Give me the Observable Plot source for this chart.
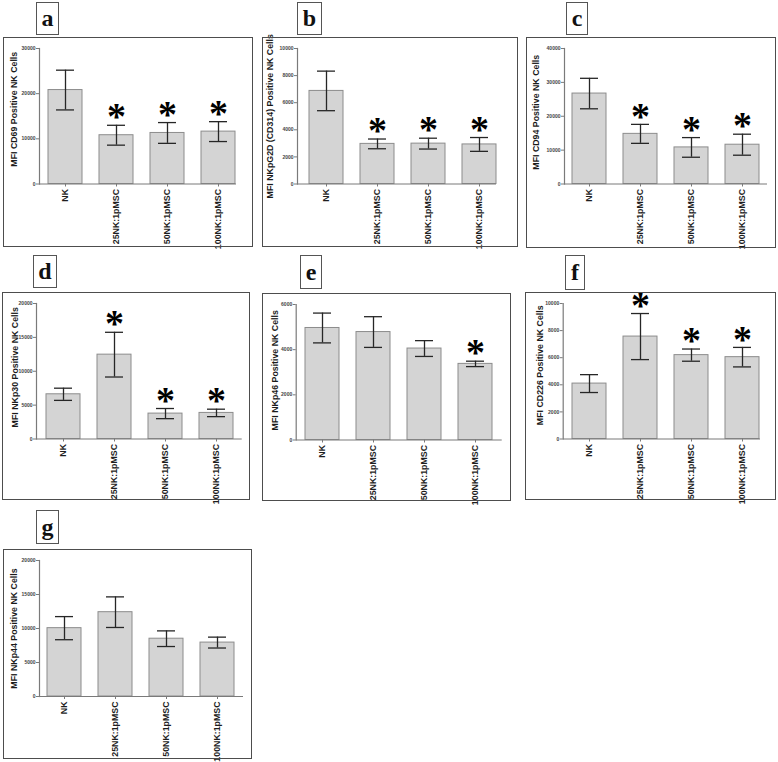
<!DOCTYPE html>
<html><head><meta charset="utf-8">
<script src="https://cdn.jsdelivr.net/npm/d3@7"></script>
<script src="https://cdn.jsdelivr.net/npm/@observablehq/plot@0.6"></script>
<style>
body{margin:0;background:#fff;}
#root{position:relative;width:778px;height:762px;overflow:hidden;background:#fff;}
.frame{position:absolute;box-sizing:border-box;border:1.3px solid #4d4d4d;pointer-events:none;}
.letter{position:absolute;box-sizing:border-box;border:1px solid #555;font-family:"Liberation Serif","Times New Roman",serif;font-weight:bold;font-size:24px;display:flex;align-items:center;justify-content:center;color:#111;background:#fff;}
.plot{position:absolute;}
</style></head><body><div id="root"></div>
<script>
// ---- data ----
const categories = ["NK", "25NK:1pMSC", "50NK:1pMSC", "100NK:1pMSC"];

const meansA = [20800, 10800, 11300, 11600];
const sdsA   = [4400, 2200, 2300, 2200];
const starsA = [0, 1, 1, 1];
const ticksA = [0, 10000, 20000, 30000];
const titleA = "MFI CD69 Positive NK Cells";

const meansB = [6870, 2960, 2980, 2920];
const sdsB   = [1460, 360, 400, 510];
const starsB = [0, 1, 1, 1];
const ticksB = [0, 2000, 4000, 6000, 8000, 10000];
const titleB = "MFI NKpG2D (CD314) Positive NK Cells";

const meansC = [26700, 14800, 10800, 11600];
const sdsC   = [4500, 2800, 2900, 3100];
const starsC = [0, 1, 1, 1];
const ticksC = [0, 10000, 20000, 30000, 40000];
const titleC = "MFI CD94 Positive NK Cells";

const meansD = [6600, 12450, 3750, 3850];
const sdsD   = [900, 3300, 750, 550];
const starsD = [0, 1, 1, 1];
const ticksD = [0, 5000, 10000, 15000, 20000];
const titleD = "MFI NKp30 Positive NK Cells";

const meansE = [4960, 4780, 4050, 3370];
const sdsE   = [660, 680, 350, 120];
const starsE = [0, 0, 0, 1];
const ticksE = [0, 2000, 4000, 6000];
const titleE = "MFI NKp46 Positive NK Cells";

const meansF = [4090, 7560, 6190, 6040];
const sdsF   = [660, 1700, 450, 720];
const starsF = [0, 1, 1, 1];
const ticksF = [0, 2000, 4000, 6000, 8000, 10000];
const titleF = "MFI CD226 Positive NK Cells";

const meansG = [10050, 12400, 8500, 7930];
const sdsG   = [1700, 2250, 1150, 800];
const starsG = [0, 0, 0, 0];
const ticksG = [0, 5000, 10000, 15000, 20000];
const titleG = "MFI NKp44 Positive NK Cells";

const panelLetters = ["a", "b", "c", "d", "e", "f", "g"];

// ---- layout (positions only) ----
const layout = [
  {l:3,   t:37,  w:250, h:210, axis:36,   first:45,   axisEnd:233,   titleOff:25, titleDy:-7, box:[36,2,23,33]},
  {l:262, t:37,  w:256, h:210, axis:35,   first:47,   axisEnd:234,   titleOff:27, titleDy:0,  box:[297,2,25,33]},
  {l:526, t:37,  w:250, h:211, axis:38,   first:46,   axisEnd:241,   titleOff:28, titleDy:-4, box:[566,2,22,33]},
  {l:2,   t:292, w:248, h:208, axis:34,   first:43.7, axisEnd:239.7, titleOff:21, titleDy:-4, box:[33,255,24,33]},
  {l:262, t:293, w:249, h:208, axis:33.7, first:43,   axisEnd:239.7, titleOff:21, titleDy:-2, box:[300,255,22,34]},
  {l:525, t:292, w:251, h:208, axis:37.7, first:46.7, axisEnd:235,   titleOff:23, titleDy:-6, box:[565,255,20,35]},
  {l:3,   t:549, w:249, h:210, axis:36,   first:44.3, axisEnd:240,   titleOff:25, titleDy:0,  box:[36,510,23,34]}
];
const series = [
  [meansA, sdsA, starsA, ticksA, titleA],
  [meansB, sdsB, starsB, ticksB, titleB],
  [meansC, sdsC, starsC, ticksC, titleC],
  [meansD, sdsD, starsD, ticksD, titleD],
  [meansE, sdsE, starsE, ticksE, titleE],
  [meansF, sdsF, starsF, ticksF, titleF],
  [meansG, sdsG, starsG, ticksG, titleG]
];

const STEP = 51, BW = 34;
const root = document.getElementById("root");

series.forEach(([means, sds, stars, ticks, title], k) => {
  const L = layout[k];
  const data = categories.map((c, i) => ({cat: c, mean: means[i], sd: sds[i], star: stars[i]}));
  const gap = STEP - BW;
  const r0 = L.first - gap / 2;
  const errStroke = "#262626";
  const plotBottom = (k === 6 ? 147 : 146.5);
  const chart = Plot.plot({
    width: L.w, height: L.h,
    marginLeft: L.axis, marginRight: L.w - L.axisEnd, marginTop: 11, marginBottom: L.h - plotBottom,
    style: {background: "transparent", overflow: "visible", fontFamily: "'Liberation Sans', Arial, sans-serif"},
    x: {domain: categories, range: [r0, r0 + 4 * STEP], paddingInner: gap / STEP, paddingOuter: gap / STEP / 2},
    y: {domain: [0, ticks[ticks.length - 1]]},
    marks: [
      Plot.barY(data, {x: "cat", y: "mean", fill: "#d4d4d4", stroke: "#8c8c8c", strokeWidth: 1}),
      Plot.ruleX(data, {x: "cat", y1: d => d.mean - d.sd, y2: d => d.mean + d.sd, stroke: errStroke, strokeWidth: 1.3}),
      Plot.tickY(data, {x: "cat", y: d => d.mean + d.sd, stroke: errStroke, strokeWidth: 1.3, insetLeft: 8, insetRight: 8}),
      Plot.tickY(data, {x: "cat", y: d => d.mean - d.sd, stroke: errStroke, strokeWidth: 1.3, insetLeft: 8, insetRight: 8}),
      Plot.ruleY([0], {stroke: "#7a7a7a", strokeWidth: 1.2}),
      Plot.frame({anchor: "left", stroke: "#7a7a7a", strokeWidth: 1.2}),
      Plot.axisY({ticks: ticks, tickSize: 3, tickPadding: 1, tickFormat: d3.format("d"), fontSize: 5, fontWeight: "bold", fill: "#444", stroke: "#7a7a7a", label: null}),
      Plot.axisX({tickRotate: -90, tickSize: 3, tickPadding: 2, fontSize: 8.8, fontWeight: "bold", fill: "#1e1e1e", stroke: "#7a7a7a", label: null}),
      Plot.text([title], {frameAnchor: "left", textAnchor: "middle", lineAnchor: "middle", text: d => d, rotate: -90, dx: -L.titleOff, dy: L.titleDy, fontSize: 8.8, fontWeight: "bold", fill: "#1a1a1a"}),
      Plot.text(data.filter(d => d.star), {x: "cat", y: d => d.mean + d.sd, text: () => "*", dy: -8, fontSize: 38, fontWeight: "bold", fontFamily: "'Liberation Serif', 'Times New Roman', serif", fill: "#000"})
    ]
  });
  chart.classList.add("plot");
  chart.style.left = L.l + "px";
  chart.style.top = L.t + "px";
  root.appendChild(chart);

  const fr = document.createElement("div");
  fr.className = "frame";
  Object.assign(fr.style, {left: L.l + "px", top: L.t + "px", width: L.w + "px", height: L.h + "px"});
  root.appendChild(fr);

  const lb = document.createElement("div");
  lb.className = "letter";
  lb.textContent = panelLetters[k];
  Object.assign(lb.style, {left: L.box[0] + "px", top: L.box[1] + "px", width: L.box[2] + "px", height: L.box[3] + "px"});
  root.appendChild(lb);
});
</script>
</body></html>
